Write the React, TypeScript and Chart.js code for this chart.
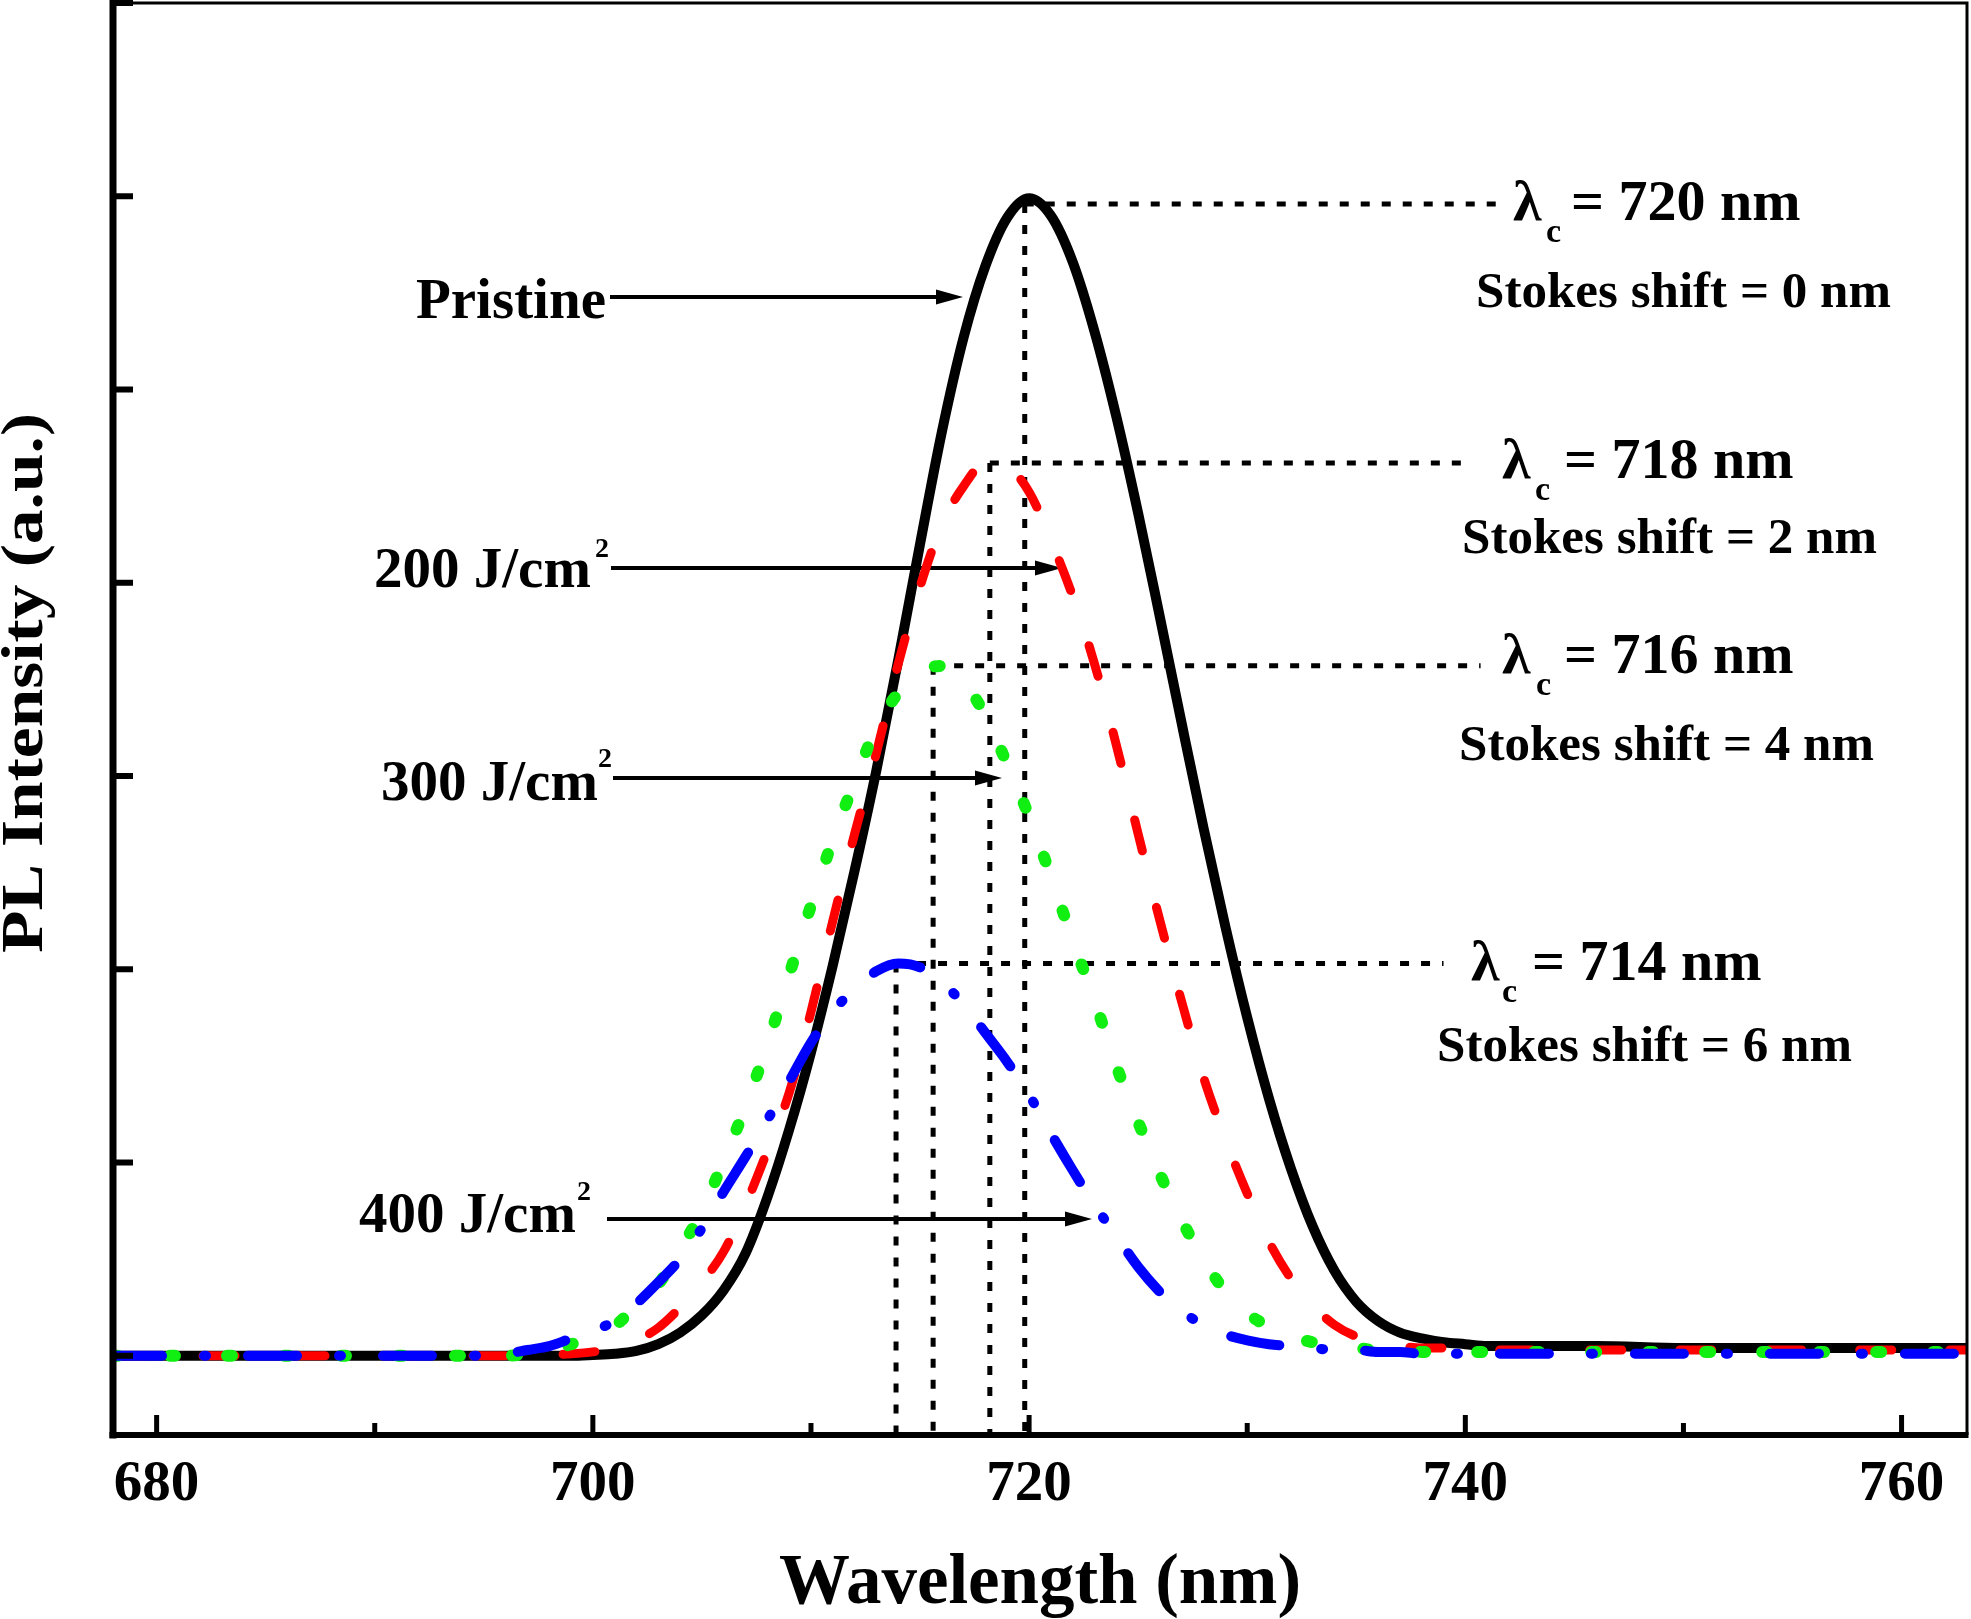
import React, { useEffect, useRef } from "react";
import { Chart, registerables } from "chart.js";

Chart.register(...registerables);

// ---------------- data ----------------
const wavelength = [
  678, 684, 690, 694,
  696, 697, 698, 699, 700, 701, 702, 703, 704, 705, 706, 707, 708, 709, 710,
  711, 712, 713, 714, 715, 716, 717, 718, 719, 720, 721, 722, 723, 724, 725,
  726, 727, 728, 729, 730, 731, 732, 733, 734, 735, 736, 737, 738, 739, 740,
  741, 742,
  746, 750, 755, 760, 763,
];

const pristine = [
  0, 0, 0, 0,
  0, 0, 0, 0, 0.004, 0.01, 0.025, 0.06, 0.12, 0.21, 0.34, 0.53, 0.82, 1.17, 1.57,
  2.02, 2.51, 3.03, 3.6, 4.2, 4.78, 5.27, 5.64, 5.89, 5.99, 5.9, 5.66, 5.3, 4.86, 4.36,
  3.82, 3.27, 2.73, 2.22, 1.75, 1.33, 0.97, 0.67, 0.44, 0.28, 0.18, 0.12, 0.09, 0.07, 0.06,
  0.05, 0.05,
  0.05, 0.04, 0.04, 0.04, 0.04,
];

const fluence200 = [
  0, 0, 0, 0,
  0, 0, 0.005, 0.01, 0.02, 0.04, 0.08, 0.145, 0.25, 0.38, 0.54, 0.78, 1.06, 1.36, 1.78,
  2.25, 2.7, 3.12, 3.58, 3.98, 4.3, 4.5, 4.62, 4.6, 4.47, 4.22, 3.93, 3.58, 3.16, 2.7,
  2.25, 1.83, 1.44, 1.12, 0.84, 0.59, 0.4, 0.26, 0.16, 0.1, 0.07, 0.05, 0.04, 0.04, 0.03,
  0.03, 0.03,
  0.03, 0.03, 0.03, 0.03, 0.03,
];

const fluence300 = [
  0, 0, 0, 0,
  0, 0.01, 0.03, 0.06, 0.1, 0.155, 0.26, 0.37, 0.55, 0.75, 1.01, 1.29, 1.61, 1.97, 2.33,
  2.67, 2.97, 3.25, 3.43, 3.54, 3.57, 3.49, 3.31, 3.06, 2.79, 2.48, 2.15, 1.84, 1.5, 1.21,
  0.94, 0.7, 0.5, 0.33, 0.22, 0.15, 0.1, 0.07, 0.05, 0.04, 0.03, 0.03, 0.02, 0.02, 0.02,
  0.02, 0.02,
  0.02, 0.02, 0.02, 0.02, 0.02,
];

const fluence400 = [
  0, 0, 0, 0,
  0.01, 0.03, 0.05, 0.09, 0.13, 0.18, 0.27, 0.38, 0.5, 0.66, 0.85, 1.03, 1.22, 1.42, 1.62,
  1.78, 1.9, 1.99, 2.03, 2.01, 1.93, 1.82, 1.67, 1.52, 1.35, 1.15, 0.96, 0.78, 0.62, 0.46,
  0.33, 0.23, 0.16, 0.11, 0.08, 0.06, 0.05, 0.04, 0.03, 0.03, 0.02, 0.02, 0.01, 0.01, 0.01,
  0.01, 0.01,
  0.01, 0.01, 0.01, 0.01, 0.01,
];

const xMajorTicks = [680, 700, 720, 740, 760];
const xMinorTicks = [690, 710, 730, 750];
const yTicks = [0, 1, 2, 3, 4, 5, 6, 7];

// peak markers (dotted guides)
const peakWavelengths = [719.8, 718.2, 715.6, 713.9];
const peakLevels = [5.96, 4.62, 3.57, 2.03];
const guideEnds = [741.7, 740.0, 740.7, 739.0];
const centerValues = ["720", "718", "716", "714"];
const stokesValues = ["0", "2", "4", "6"];
const seriesLabels = ["Pristine", "200 J/cm", "300 J/cm", "400 J/cm"];

// ---------------- layout (pixels) ----------------
const FONT = '"Liberation Serif", "Times New Roman", serif';
const lambdaPos = [
  { lx: 1513, cx: 1546, rx: 1571, base: 220 },
  { lx: 1502, cx: 1535, rx: 1564, base: 478 },
  { lx: 1502, cx: 1536, rx: 1564, base: 673 },
  { lx: 1471, cx: 1502, rx: 1532, base: 980 },
];
const stokesPos = [
  { x: 1476, base: 307 },
  { x: 1462, base: 553 },
  { x: 1459, base: 760 },
  { x: 1437, base: 1061 },
];
const labelPos = [
  { x: 416, base: 318, sup: false },
  { x: 374, base: 587, sup: true, sx: 595, sb: 557 },
  { x: 381, base: 800, sup: true, sx: 598, sb: 767 },
  { x: 359, base: 1232, sup: true, sx: 577, sb: 1200 },
];
const arrows = [
  { x0: 610, x1: 963, y: 297 },
  { x0: 611, x1: 1062, y: 568 },
  { x0: 613, x1: 1002, y: 778 },
  { x0: 607, x1: 1092, y: 1219 },
];

function drawText(
  ctx: CanvasRenderingContext2D,
  s: string,
  x: number,
  y: number,
  size: number,
  align: "left" | "center" = "left",
  width?: number
) {
  ctx.save();
  ctx.font = `bold ${size}px ${FONT}`;
  ctx.textBaseline = "alphabetic";
  ctx.textAlign = "left";
  const w = ctx.measureText(s).width;
  const sx = width ? width / w : 1;
  const left = align === "center" ? x - (w * sx) / 2 : x;
  ctx.translate(left, y);
  ctx.scale(sx, 1);
  ctx.fillStyle = "#000";
  ctx.fillText(s, 0, 0);
  ctx.restore();
}

export default function App() {
  const ref = useRef<HTMLCanvasElement>(null);

  useEffect(() => {
    const canvas = ref.current;
    if (!canvas) return;
    const pts = (vals: number[]) => wavelength.map((x, i) => ({ x, y: vals[i] }));

    const annot = {
      id: "annot",
      beforeDatasetsDraw(chart: any) {
        const ctx: CanvasRenderingContext2D = chart.ctx;
        const xs = chart.scales.x;
        const ys = chart.scales.y;
        const area = chart.chartArea;
        ctx.save();
        // dotted guides
        ctx.strokeStyle = "#000";
        ctx.lineWidth = 5;
        ctx.setLineDash([9, 12]);
        ctx.lineCap = "butt";
        for (let i = 0; i < peakWavelengths.length; i++) {
          const px = xs.getPixelForValue(peakWavelengths[i]);
          const py = ys.getPixelForValue(peakLevels[i]);
          const ex = xs.getPixelForValue(guideEnds[i]);
          ctx.beginPath();
          ctx.moveTo(px, py);
          ctx.lineTo(ex, py);
          ctx.stroke();
          ctx.beginPath();
          ctx.moveTo(px, py);
          ctx.lineTo(px, area.bottom);
          ctx.stroke();
        }
        ctx.setLineDash([]);
        // arrows
        ctx.lineWidth = 4;
        ctx.fillStyle = "#000";
        for (const a of arrows) {
          ctx.beginPath();
          ctx.moveTo(a.x0, a.y);
          ctx.lineTo(a.x1 - 20, a.y);
          ctx.stroke();
          ctx.beginPath();
          ctx.moveTo(a.x1, a.y);
          ctx.lineTo(a.x1 - 27, a.y - 7.5);
          ctx.lineTo(a.x1 - 27, a.y + 7.5);
          ctx.closePath();
          ctx.fill();
        }
        ctx.restore();
      },
      afterDatasetsDraw(chart: any) {
        const ctx: CanvasRenderingContext2D = chart.ctx;
        const xs = chart.scales.x;
        const ys = chart.scales.y;
        const a = chart.chartArea;
        ctx.save();
        ctx.strokeStyle = "#000";
        ctx.lineCap = "butt";
        // frame
        ctx.lineWidth = 3;
        ctx.beginPath();
        ctx.moveTo(a.left, a.top);
        ctx.lineTo(a.right, a.top);
        ctx.lineTo(a.right, a.bottom);
        ctx.stroke();
        ctx.lineWidth = 7;
        ctx.beginPath();
        ctx.moveTo(a.left, 0);
        ctx.lineTo(a.left, a.bottom + 3.5);
        ctx.stroke();
        ctx.lineWidth = 6;
        ctx.beginPath();
        ctx.moveTo(a.left - 3.5, a.bottom);
        ctx.lineTo(a.right + 1.5, a.bottom);
        ctx.stroke();
        // y ticks (inward)
        ctx.lineWidth = 6;
        for (const v of yTicks) {
          const py = ys.getPixelForValue(v);
          ctx.beginPath();
          ctx.moveTo(a.left, py);
          ctx.lineTo(a.left + 20, py);
          ctx.stroke();
        }
        // x ticks (inward)
        ctx.lineWidth = 5;
        for (const v of xMajorTicks) {
          const px = xs.getPixelForValue(v);
          ctx.beginPath();
          ctx.moveTo(px, a.bottom);
          ctx.lineTo(px, a.bottom - 20);
          ctx.stroke();
        }
        for (const v of xMinorTicks) {
          const px = xs.getPixelForValue(v);
          ctx.beginPath();
          ctx.moveTo(px, a.bottom);
          ctx.lineTo(px, a.bottom - 12);
          ctx.stroke();
        }
        ctx.restore();

        // tick labels
        for (const v of xMajorTicks) {
          drawText(ctx, String(v), xs.getPixelForValue(v), 1500, 57, "center");
        }
        // axis titles
        drawText(ctx, "Wavelength (nm)", 1040, 1603, 72, "center", 522);
        ctx.save();
        ctx.translate(42, 683);
        ctx.rotate(-Math.PI / 2);
        drawText(ctx, "PL Intensity (a.u.)", 0, 0, 60, "center", 540);
        ctx.restore();

        // series labels
        for (let i = 0; i < seriesLabels.length; i++) {
          const p = labelPos[i];
          drawText(ctx, seriesLabels[i], p.x, p.base, 57);
          if (p.sup) drawText(ctx, "2", p.sx as number, p.sb as number, 28);
        }
        // center wavelength + Stokes shift labels
        for (let i = 0; i < centerValues.length; i++) {
          const p = lambdaPos[i];
          drawText(ctx, "\u03bb", p.lx, p.base, 58);
          drawText(ctx, "c", p.cx, p.base + 22, 34);
          drawText(ctx, `= ${centerValues[i]} nm`, p.rx, p.base, 58);
          const s = stokesPos[i];
          drawText(ctx, `Stokes shift = ${stokesValues[i]} nm`, s.x, s.base, 51, "left", 415);
        }
      },
    };

    const common = {
      pointRadius: 0,
      pointHoverRadius: 0,
      fill: false,
      cubicInterpolationMode: "monotone" as const,
      borderJoinStyle: "round" as const,
    };

    const chart = new Chart(canvas, {
      type: "line",
      data: {
        datasets: [
          {
            ...common,
            label: "Pristine",
            data: pts(pristine),
            borderColor: "#000000",
            borderWidth: 10,
            borderCapStyle: "round",
            order: 4,
          },
          {
            ...common,
            label: "200 J/cm2",
            data: pts(fluence200),
            borderColor: "#ff0000",
            borderWidth: 9,
            borderDash: [32, 58],
            borderCapStyle: "round",
            order: 3,
          },
          {
            ...common,
            label: "300 J/cm2",
            data: pts(fluence300),
            borderColor: "#11ee11",
            borderWidth: 12,
            borderDash: [5, 52],
            borderCapStyle: "round",
            order: 2,
          },
          {
            ...common,
            label: "400 J/cm2",
            data: pts(fluence400),
            borderColor: "#0000ff",
            borderWidth: 10,
            borderDash: [49, 42, 2, 42],
            borderCapStyle: "round",
            order: 1,
          },
        ],
      },
      options: {
        responsive: false,
        devicePixelRatio: 1,
        animation: false,
        layout: { padding: { left: 113, right: 4, top: 3, bottom: 184 } },
        plugins: { legend: { display: false }, tooltip: { enabled: false } },
        events: [],
        scales: {
          x: { type: "linear", min: 678, max: 763, display: false },
          y: { type: "linear", min: -0.41, max: 7, display: false },
        },
      },
      plugins: [annot],
    });
    return () => chart.destroy();
  }, []);

  return (
    <div
      style={{
        position: "absolute",
        left: 0,
        top: 0,
        width: 1971,
        height: 1619,
        background: "#ffffff",
      }}
    >
      <canvas ref={ref} width={1971} height={1619} style={{ display: "block" }} />
    </div>
  );
}
